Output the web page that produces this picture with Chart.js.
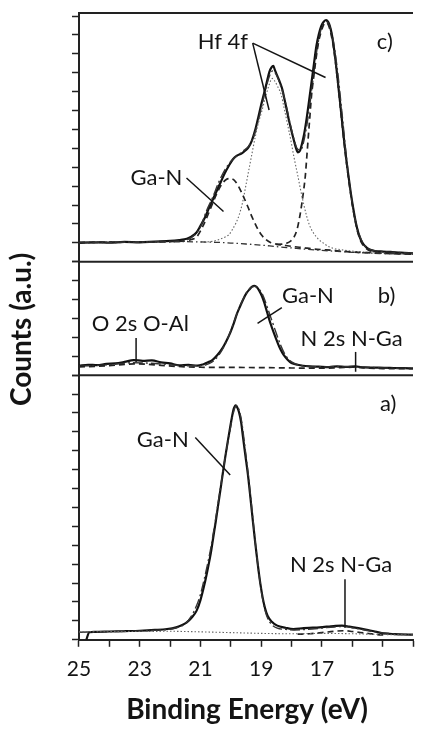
<!DOCTYPE html>
<html>
<head>
<meta charset="utf-8">
<title>XPS valence band spectra</title>
<script src="https://cdn.jsdelivr.net/npm/chart.js@4.4.1/dist/chart.umd.min.js"></script>
<style>
    html, body { margin: 0; padding: 0; background: #fff; }
    #wrap { position: relative; width: 423px; height: 734px; }
</style>
</head>
<body>
<div id="wrap"><canvas id="xps-chart"></canvas></div>
<script>
// ---- shared axis ----
const xTickLabels = ['25', '23', '21', '19', '17', '15'];
const yMaxA = 14;
const yMaxB = 6;
const yMaxC = 13.16;

// ---- panel c) ----
const cEnergy = [25.0, 24.5, 24.0, 23.5, 23.0, 22.5, 22.0, 21.7, 21.45, 21.3, 21.13, 21.0, 20.86, 20.73, 20.6, 20.45, 20.33, 20.2, 20.06, 19.93, 19.8, 19.65, 19.53, 19.42, 19.31, 19.2, 19.1, 19.0, 18.89, 18.8, 18.73, 18.66, 18.6, 18.55, 18.48, 18.42, 18.37, 18.3, 18.24, 18.16, 18.08, 18.0, 17.92, 17.85, 17.79, 17.72, 17.66, 17.58, 17.5, 17.42, 17.34, 17.26, 17.18, 17.1, 17.02, 16.94, 16.86, 16.8, 16.74, 16.67, 16.6, 16.52, 16.44, 16.36, 16.28, 16.2, 16.12, 16.04, 15.96, 15.88, 15.8, 15.7, 15.58, 15.45, 15.26, 15.0, 14.74, 14.4, 14.0];
const cMeasured = [1.00, 1.03, 1.01, 1.05, 1.03, 1.07, 1.10, 1.15, 1.22, 1.33, 1.55, 1.90, 2.31, 2.80, 3.27, 3.80, 4.22, 4.68, 5.09, 5.42, 5.61, 5.72, 5.87, 6.05, 6.40, 6.95, 7.61, 8.30, 9.00, 9.60, 10.05, 10.28, 10.36, 10.15, 9.87, 9.65, 9.44, 9.10, 8.65, 8.05, 7.44, 6.90, 6.40, 6.00, 5.79, 5.88, 6.22, 6.80, 7.61, 8.55, 9.52, 10.50, 11.43, 12.05, 12.48, 12.70, 12.79, 12.70, 12.48, 12.00, 11.26, 10.20, 9.00, 7.80, 6.57, 5.45, 4.48, 3.55, 2.75, 2.05, 1.53, 1.10, 0.83, 0.66, 0.57, 0.54, 0.52, 0.48, 0.45];
const cFitEnergy = [25.0, 24.0, 23.0, 22.0, 21.5, 21.2, 21.0, 20.8, 20.6, 20.4, 20.2, 20.0, 19.8, 19.6, 19.4, 19.2, 19.0, 18.85, 18.72, 18.62, 18.52, 18.4, 18.25, 18.1, 17.95, 17.82, 17.7, 17.58, 17.45, 17.3, 17.15, 17.0, 16.88, 16.78, 16.65, 16.5, 16.35, 16.2, 16.05, 15.9, 15.75, 15.6, 15.4, 15.0, 14.5, 14.0];
const cFit = [1.02, 1.04, 1.05, 1.08, 1.14, 1.40, 1.85, 2.70, 3.40, 4.20, 4.85, 5.30, 5.60, 5.85, 6.15, 6.85, 8.10, 9.15, 9.85, 10.10, 9.95, 9.50, 8.75, 7.70, 6.65, 6.00, 5.90, 6.50, 7.70, 9.55, 11.35, 12.45, 12.72, 12.60, 11.90, 10.30, 8.05, 5.65, 3.60, 2.20, 1.35, 0.88, 0.64, 0.54, 0.49, 0.45];
const cGaNEnergy = [25.0, 23.0, 22.0, 21.5, 21.3, 21.13, 20.92, 20.75, 20.6, 20.45, 20.3, 20.15, 20.0, 19.85, 19.63, 19.45, 19.31, 19.15, 19.0, 18.85, 18.68, 18.5, 18.2, 17.92, 17.6, 17.3, 16.86, 16.5, 16.2, 15.8, 15.4, 15.0, 14.5, 14.0];
const cGaN = [1.02, 1.05, 1.07, 1.10, 1.18, 1.30, 1.88, 2.50, 3.09, 3.65, 4.10, 4.35, 4.40, 4.25, 3.61, 2.95, 2.40, 1.85, 1.44, 1.18, 1.01, 0.93, 0.86, 0.80, 0.74, 0.68, 0.63, 0.58, 0.54, 0.50, 0.47, 0.44, 0.42, 0.40];
const cHf52Energy = [21.0, 20.6, 20.38, 20.2, 20.06, 19.95, 19.83, 19.72, 19.62, 19.52, 19.41, 19.3, 19.2, 19.1, 18.98, 18.86, 18.75, 18.64, 18.55, 18.45, 18.34, 18.24, 18.13, 18.02, 17.92, 17.8, 17.7, 17.6, 17.5, 17.4, 17.28, 17.12, 16.96, 16.8, 16.64, 16.3, 16.0, 15.5, 15.0, 14.0];
const cHf52 = [1.04, 1.08, 1.18, 1.30, 1.44, 1.70, 2.05, 2.50, 3.09, 3.90, 4.83, 5.75, 6.57, 7.30, 7.96, 8.70, 9.30, 9.70, 9.55, 9.25, 8.83, 8.10, 7.26, 6.40, 5.53, 4.60, 3.79, 3.05, 2.40, 1.90, 1.53, 1.20, 1.00, 0.82, 0.72, 0.62, 0.56, 0.50, 0.45, 0.40];
const cHf72Energy = [18.5, 18.24, 18.03, 17.92, 17.82, 17.74, 17.66, 17.6, 17.55, 17.5, 17.45, 17.4, 17.34, 17.26, 17.18, 17.1, 17.02, 16.94, 16.86, 16.78, 16.7, 16.6, 16.52, 16.44, 16.36, 16.28, 16.2, 16.12, 16.04, 15.96, 15.88, 15.8, 15.7, 15.58, 15.45, 15.26, 15.0, 14.5, 14.0];
const cHf72 = [0.92, 0.95, 1.09, 1.30, 1.70, 2.30, 3.09, 3.80, 4.48, 5.50, 6.57, 7.60, 8.83, 9.90, 10.90, 11.70, 12.20, 12.55, 12.65, 12.50, 12.05, 11.15, 10.10, 8.90, 7.65, 6.45, 5.35, 4.35, 3.45, 2.65, 1.98, 1.45, 1.02, 0.76, 0.60, 0.52, 0.48, 0.44, 0.40];
const cBackgroundEnergy = [25.0, 23.0, 21.5, 21.0, 20.5, 20.0, 19.5, 19.0, 18.5, 18.0, 17.5, 17.0, 16.5, 16.0, 15.0, 14.0];
const cBackground = [1.00, 1.03, 1.06, 1.05, 1.03, 0.99, 0.94, 0.88, 0.80, 0.73, 0.66, 0.60, 0.55, 0.50, 0.44, 0.40];

// ---- panel b) ----
const bEnergy = [25.0, 24.7, 24.4, 24.1, 23.8, 23.5, 23.2, 22.9, 22.6, 22.3, 22.0, 21.7, 21.4, 21.1, 20.9, 20.75, 20.6, 20.45, 20.28, 20.15, 20.01, 19.9, 19.8, 19.7, 19.59, 19.48, 19.38, 19.3, 19.22, 19.14, 19.06, 18.98, 18.9, 18.8, 18.69, 18.58, 18.47, 18.37, 18.26, 18.13, 18.0, 17.8, 17.62, 17.4, 17.1, 16.76, 16.5, 16.2, 15.91, 15.6, 15.3, 14.95, 14.63, 14.3, 14.0];
const bMeasured = [0.50, 0.55, 0.53, 0.60, 0.62, 0.70, 0.80, 0.76, 0.78, 0.68, 0.62, 0.52, 0.55, 0.50, 0.58, 0.68, 0.81, 1.05, 1.42, 1.80, 2.28, 2.75, 3.24, 3.62, 4.02, 4.35, 4.55, 4.68, 4.72, 4.65, 4.46, 4.20, 3.85, 3.30, 2.72, 2.22, 1.76, 1.38, 1.07, 0.82, 0.64, 0.55, 0.50, 0.47, 0.45, 0.43, 0.47, 0.44, 0.46, 0.41, 0.40, 0.39, 0.38, 0.37, 0.36];
const bFitEnergy = [25.0, 24.0, 23.2, 22.5, 21.5, 21.0, 20.7, 20.5, 20.3, 20.1, 19.9, 19.7, 19.5, 19.35, 19.22, 19.1, 18.95, 18.8, 18.65, 18.5, 18.35, 18.2, 18.0, 17.7, 17.3, 16.8, 16.0, 15.0, 14.0];
const bFit = [0.48, 0.55, 0.66, 0.62, 0.50, 0.50, 0.62, 0.85, 1.30, 1.95, 2.80, 3.65, 4.30, 4.62, 4.70, 4.60, 4.25, 3.60, 2.90, 2.20, 1.55, 1.05, 0.70, 0.52, 0.46, 0.44, 0.45, 0.38, 0.36];
const bComponentEnergy = [25.0, 24.0, 23.5, 23.2, 22.8, 22.3, 21.5, 21.0, 20.0, 19.0, 18.0, 17.0, 16.4, 16.0, 15.6, 15.0, 14.0];
const bComponent = [0.44, 0.50, 0.57, 0.60, 0.58, 0.52, 0.44, 0.42, 0.41, 0.40, 0.38, 0.37, 0.40, 0.42, 0.39, 0.35, 0.34];

// ---- panel a) ----
const aEnergy = [24.76, 24.66, 24.5, 24.0, 23.5, 23.0, 22.5, 22.1, 21.8, 21.6, 21.45, 21.3, 21.13, 21.0, 20.87, 20.76, 20.66, 20.58, 20.5, 20.42, 20.34, 20.26, 20.18, 20.1, 20.02, 19.96, 19.91, 19.86, 19.84, 19.79, 19.73, 19.66, 19.6, 19.52, 19.43, 19.35, 19.27, 19.19, 19.11, 19.03, 18.95, 18.87, 18.79, 18.65, 18.47, 18.2, 17.94, 17.6, 17.3, 17.08, 16.8, 16.55, 16.34, 16.1, 15.8, 15.48, 15.2, 14.96, 14.6, 14.3, 14.0];
const aMeasured = [0.00, 0.40, 0.42, 0.44, 0.46, 0.48, 0.52, 0.57, 0.66, 0.78, 0.92, 1.15, 1.53, 2.10, 2.92, 3.75, 4.57, 5.40, 6.22, 7.10, 7.96, 8.85, 9.70, 10.50, 11.26, 11.80, 12.20, 12.38, 12.40, 12.30, 12.04, 11.50, 10.74, 9.75, 8.65, 7.45, 6.22, 5.05, 3.96, 3.00, 2.22, 1.65, 1.27, 0.95, 0.75, 0.64, 0.57, 0.62, 0.64, 0.66, 0.70, 0.74, 0.75, 0.70, 0.62, 0.52, 0.42, 0.34, 0.30, 0.28, 0.27];
const aFitEnergy = [25.0, 24.0, 23.0, 22.5, 22.0, 21.7, 21.5, 21.3, 21.13, 21.0, 20.87, 20.76, 20.66, 20.5, 20.34, 20.18, 20.02, 19.93, 19.86, 19.81, 19.75, 19.66, 19.6, 19.52, 19.43, 19.35, 19.27, 19.19, 19.11, 19.03, 18.95, 18.87, 18.79, 18.65, 18.47, 18.2, 17.9, 17.5, 17.0, 16.6, 16.3, 16.0, 15.6, 15.2, 14.8, 14.4, 14.0];
const aFit = [0.40, 0.43, 0.47, 0.50, 0.56, 0.68, 0.85, 1.25, 1.80, 2.40, 3.25, 4.05, 4.85, 6.40, 8.05, 9.70, 11.15, 11.90, 12.30, 12.38, 12.25, 11.70, 11.05, 10.00, 8.80, 7.60, 6.35, 5.10, 3.95, 2.95, 2.15, 1.55, 1.15, 0.80, 0.62, 0.55, 0.52, 0.55, 0.62, 0.68, 0.70, 0.64, 0.52, 0.40, 0.33, 0.29, 0.27];
const aBackgroundEnergy = [25.0, 23.0, 22.0, 21.0, 20.0, 19.0, 18.0, 17.0, 16.0, 15.0, 14.0];
const aBackground = [0.42, 0.44, 0.45, 0.42, 0.38, 0.34, 0.32, 0.34, 0.32, 0.28, 0.25];
const aN2sEnergy = [17.8, 17.4, 17.0, 16.6, 16.3, 16.0, 15.6, 15.2, 14.9];
const aN2s = [0.30, 0.32, 0.38, 0.45, 0.48, 0.44, 0.36, 0.28, 0.25];

// ---- annotations (eV, panel units) ----
const labels = [
    { axis: 'yC', x: 20.26, y: 11.65, text: 'Hf 4f' },
    { axis: 'yC', x: 14.93, y: 11.63, text: 'c)' },
    { axis: 'yC', x: 22.45, y: 4.43, text: 'Ga-N' },
    { axis: 'yB', x: 17.46, y: 4.20, text: 'Ga-N' },
    { axis: 'yB', x: 14.87, y: 4.20, text: 'b)' },
    { axis: 'yB', x: 22.98, y: 2.71, text: 'O 2s O-Al' },
    { axis: 'yB', x: 16.02, y: 1.93, text: 'N 2s N-Ga' },
    { axis: 'yA', x: 14.82, y: 12.50, text: 'a)' },
    { axis: 'yA', x: 22.24, y: 10.57, text: 'Ga-N' },
    { axis: 'yA', x: 16.37, y: 3.95, text: 'N 2s N-Ga' }
];
const leaders = [
    { axis: 'yC', from: [19.28, 11.57], to: [18.74, 8.03] },
    { axis: 'yC', from: [19.28, 11.57], to: [16.88, 9.75] },
    { axis: 'yC', from: [21.46, 4.43], to: [20.24, 2.66] },
    { axis: 'yB', from: [18.32, 3.57], to: [19.12, 2.74] },
    { axis: 'yB', from: [23.12, 1.96], to: [23.12, 0.70] },
    { axis: 'yB', from: [15.89, 1.23], to: [15.89, 0.18] },
    { axis: 'yA', from: [21.17, 10.70], to: [20.02, 8.72] },
    { axis: 'yA', from: [16.24, 3.20], to: [16.24, 0.64] }
];

const FONT = 'Lato, "Open Sans", sans-serif';
const INK = '#141414';

function points(xs, ys) {
    return xs.map((x, i) => ({ x: x, y: ys[i] }));
}

function series(label, axis, xs, ys, style) {
    return Object.assign({
        label: label,
        yAxisID: axis,
        data: points(xs, ys),
        borderColor: INK,
        borderWidth: 1.6,
        pointRadius: 0,
        fill: false,
        tension: 0.35,
        cubicInterpolationMode: 'monotone'
    }, style);
}

const solid = { borderWidth: 2.2, borderColor: '#111' };
const envelope = { borderDash: [10, 3, 2, 3], borderWidth: 1.4, borderColor: '#333' };
const dashed = { borderDash: [6, 4], borderWidth: 1.7, borderColor: '#222' };
const dotted = { borderDash: [1.5, 2], borderWidth: 1.1, borderColor: '#666' };
const dashDot = { borderDash: [6, 3, 1.5, 3], borderWidth: 1.3, borderColor: '#333' };

function panelAxis(max, weight) {
    return {
        type: 'linear',
        position: 'left',
        stack: 'panels',
        stackWeight: weight,
        min: 0,
        max: max,
        ticks: { display: false, stepSize: 1, includeBounds: false },
        grid: { drawOnChartArea: false, drawTicks: true, tickLength: 7, tickWidth: 1.5, tickColor: '#222' },
        border: { display: true, color: '#222', width: 2 }
    };
}

// frame lines, panel texts, leader lines and axis titles
const decorations = {
    id: 'decorations',
    afterDatasetsDraw(chart) {
        const { ctx, chartArea, scales } = chart;
        const x = scales.x;
        ctx.save();
        ctx.strokeStyle = '#222';
        ctx.lineWidth = 2;
        ['yC', 'yB', 'yA'].forEach(id => {
            ctx.beginPath();
            ctx.moveTo(chartArea.left, scales[id].top);
            ctx.lineTo(chartArea.right, scales[id].top);
            ctx.stroke();
        });

        ctx.strokeStyle = INK;
        ctx.lineWidth = 1.5;
        leaders.forEach(l => {
            const y = scales[l.axis];
            ctx.beginPath();
            ctx.moveTo(x.getPixelForValue(l.from[0]), y.getPixelForValue(l.from[1]));
            ctx.lineTo(x.getPixelForValue(l.to[0]), y.getPixelForValue(l.to[1]));
            ctx.stroke();
        });

        ctx.fillStyle = INK;
        ctx.font = '22px ' + FONT;
        ctx.textAlign = 'center';
        ctx.textBaseline = 'middle';
        labels.forEach(t => {
            ctx.fillText(t.text, x.getPixelForValue(t.x), scales[t.axis].getPixelForValue(t.y));
        });

        ctx.font = 'bold 28px ' + FONT;
        ctx.fillText('Binding Energy (eV)', (chartArea.left + chartArea.right) / 2 + 1, chartArea.bottom + 70);
        ctx.translate(22, (chartArea.top + chartArea.bottom) / 2 + 3);
        ctx.rotate(-Math.PI / 2);
        ctx.fillText('Counts (a.u.)', 0, 0);
        ctx.restore();
    }
};

new Chart(document.getElementById('xps-chart'), {
    type: 'line',
    data: {
        datasets: [
            series('c) background', 'yC', cBackgroundEnergy, cBackground, dashDot),
            series('c) Ga-N', 'yC', cGaNEnergy, cGaN, dashed),
            series('c) Hf 4f5/2', 'yC', cHf52Energy, cHf52, dotted),
            series('c) Hf 4f7/2', 'yC', cHf72Energy, cHf72, dashed),
            series('c) fit', 'yC', cFitEnergy, cFit, envelope),
            series('c) measured', 'yC', cEnergy, cMeasured, solid),
            series('b) components', 'yB', bComponentEnergy, bComponent, dashed),
            series('b) fit', 'yB', bFitEnergy, bFit, envelope),
            series('b) measured', 'yB', bEnergy, bMeasured, solid),
            series('a) background', 'yA', aBackgroundEnergy, aBackground, dotted),
            series('a) N 2s', 'yA', aN2sEnergy, aN2s, dashed),
            series('a) fit', 'yA', aFitEnergy, aFit, envelope),
            series('a) measured', 'yA', aEnergy, aMeasured, solid)
        ]
    },
    options: {
        responsive: true,
        maintainAspectRatio: false,
        animation: false,
        events: [],
        layout: { padding: { left: 72, top: 13, right: 0, bottom: 42 } },
        plugins: {
            legend: { display: false },
            tooltip: { enabled: false }
        },
        scales: {
            x: {
                type: 'linear',
                reverse: true,
                min: 14,
                max: 25,
                ticks: {
                    stepSize: 1,
                    autoSkip: false,
                    maxRotation: 0,
                    padding: 10,
                    color: INK,
                    font: { family: FONT, size: 21 },
                    callback: value => xTickLabels.includes(String(value)) ? String(value) : ''
                },
                grid: { drawOnChartArea: false, drawTicks: true, tickLength: 7, tickWidth: 1.5, tickColor: '#222' },
                border: { display: true, color: '#222', width: 2 }
            },
            yA: panelAxis(yMaxA, yMaxA),
            yB: panelAxis(yMaxB, yMaxB),
            yC: panelAxis(yMaxC, yMaxC)
        }
    },
    plugins: [decorations]
});
</script>
</body>
</html>
